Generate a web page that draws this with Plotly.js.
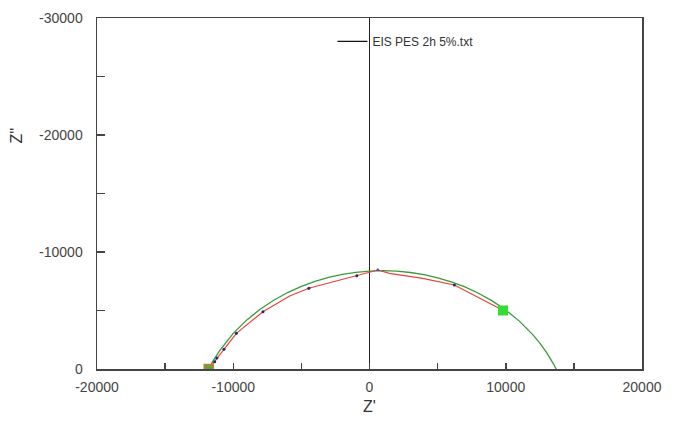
<!DOCTYPE html>
<html><head><meta charset="utf-8">
<script src="https://cdn.plot.ly/plotly-3.0.1.min.js"></script>
<style>html,body{margin:0;padding:0;background:#fff}#c{width:682px;height:423px}</style>
</head><body><div id="c"></div>
<script>
// Fitted curve (green)
const fitX = [-11800,-11500,-11000,-10000,-9000,-8000,-7000,-6000,-5000,-4000,-3000,-2000,-1000,0,1000,2000,3000,4000,5000,6000,7000,8000,9000,10000,11000,12000,12500,13000,13500,13700];
const fitY = [0,-651,-1577,-3047,-4196,-5128,-5897,-6534,-7060,-7487,-7826,-8083,-8262,-8367,-8400,-8360,-8248,-8061,-7796,-7448,-7012,-6476,-5826,-5043,-4092,-2917,-2214,-1404,-443,0];
// Measured data (red line, dark dots)
const dataX = [-11800,-11360,-11200,-10680,-9770,-7820,-5860,-4450,-2440,-930,0,610,1466,3910,6230,9900];
const dataY = [0,-625,-940,-1680,-3050,-4900,-6240,-6900,-7520,-7970,-8265,-8460,-8180,-7750,-7180,-4957];
// Points drawn with a dark dot
const dotX = [-11360,-11200,-10680,-9770,-7820,-4450,-930,6230];
const dotY = [-625,-940,-1680,-3050,-4900,-6900,-7970,-7180];
// Peak marker
const peakX = [610];
const peakY = [-8460];
// Markers at the ends of the fitted range
const startX = [-11800], startY = [0];
const endX = [9800], endY = [-5000];
const seriesName = "EIS PES 2h 5%.txt";
const xTicks = [-20000,-10000,0,10000,20000];
const xTickText = ['-20000','-10000','0','10000','20000'];
const yTicks = [0,-10000,-20000,-30000];
const yTickText = ['0','-10000','-20000','-30000'];

const traces = [
  {x: fitX, y: fitY, mode: 'lines', line: {color: '#3a9a3a', width: 1.3}, showlegend: false, hoverinfo: 'skip'},
  {x: dataX, y: dataY, mode: 'lines', line: {color: '#e8413a', width: 1.2}, showlegend: false},
  {x: dotX, y: dotY, mode: 'markers', marker: {color: '#1f2a6e', size: 3}, showlegend: false},
  {x: peakX, y: peakY, mode: 'markers', marker: {color: '#6a3fb0', size: 4, symbol: 'triangle-up'}, showlegend: false},
  {x: startX, y: startY, mode: 'markers', marker: {color: '#4caf3a', size: 9, symbol: 'square', line: {color: '#e07030', width: 1.5}}, showlegend: false},
  {x: endX, y: endY, mode: 'markers', marker: {color: '#33dd33', size: 10, symbol: 'square'}, showlegend: false},
  {x: [null], y: [null], mode: 'lines', line: {color: '#111', width: 1.3}, name: seriesName, showlegend: true}
];

const axFont = {family: 'Liberation Sans, Arial, sans-serif', size: 14, color: '#444'};
const layout = {
  width: 682, height: 423,
  margin: {l: 97, r: 40, t: 18, b: 54},
  paper_bgcolor: '#fff', plot_bgcolor: '#fff',
  showlegend: true,
  legend: {x: 0.432, y: 0.975, xanchor: 'left', yanchor: 'top', bgcolor: 'rgba(0,0,0,0)',
           font: {family: 'Liberation Sans, Arial, sans-serif', size: 12, color: '#333'}},
  xaxis: {
    range: [-20000, 20000], tickvals: xTicks, ticktext: xTickText, ticks: 'inside', ticklen: 6, tickwidth: 1.5, tickcolor: '#444',
    minor: {dtick: 5000, tick0: 0, ticks: 'inside', ticklen: 6, tickwidth: 1.5, tickcolor: '#444', showgrid: false},
    showgrid: false, zeroline: true, zerolinecolor: '#222', zerolinewidth: 1.5,
    showline: true, linecolor: '#444', linewidth: 1.5, mirror: true,
    tickfont: axFont, ticklabelstandoff: 5,
    title: {text: "Z'", font: {family: 'Liberation Sans, Arial, sans-serif', size: 16, color: '#333'}, standoff: 6}
  },
  yaxis: {
    range: [0, -30000], tickvals: yTicks, ticktext: yTickText, ticks: 'inside', ticklen: 8, tickwidth: 1.5, tickcolor: '#444',
    minor: {dtick: 5000, tick0: 0, ticks: 'inside', ticklen: 8, tickwidth: 1.5, tickcolor: '#444', showgrid: false},
    showgrid: false, zeroline: false,
    showline: true, linecolor: '#444', linewidth: 1.5, mirror: true,
    tickfont: axFont, ticklabelstandoff: 10
  },
  annotations: [
    {text: "Z''", xref: 'paper', yref: 'paper', x: -0.147, y: 0.665, xanchor: 'center', yanchor: 'middle', showarrow: false, textangle: -90,
     font: {family: 'Liberation Sans, Arial, sans-serif', size: 16, color: '#333'}}
  ]
};
Plotly.newPlot('c', traces, layout, {displayModeBar: false, staticPlot: true});
</script></body></html>
